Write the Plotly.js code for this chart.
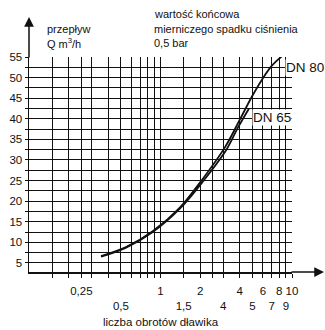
<!DOCTYPE html>
<html>
<head>
<meta charset="utf-8">
<script src="https://cdn.plot.ly/plotly-3.0.1.min.js"></script>
<style>html,body{margin:0;padding:0;background:#fff;}#chart{width:325px;height:330px;}</style>
</head>
<body>
<div id="chart"></div>
<script>
// Data
const turnsDN80 = [0.353, 0.547, 0.873, 1.397, 2.10, 3.08, 4.01, 4.95, 5.91, 7.03, 8.39];
const flowDN80  = [6.65, 8.83, 12.67, 18.35, 25.46, 32.99, 39.78, 45.36, 49.5, 52.9, 55.2];
const turnsDN65 = [0.353, 0.547, 0.873, 1.397, 2.13, 3.16, 3.87, 4.70];
const flowDN65  = [6.5, 8.7, 12.5, 18.1, 25.0, 32.4, 37.8, 42.45];

const xGridVals = [0.15, 0.2, 0.25, 0.3, 0.4, 0.5, 0.6, 0.7, 0.8, 0.9, 1, 1.5, 2, 2.5, 3, 4, 5, 6, 7, 8, 9, 10];
const xTopLabelVals = [0.25, 1, 2, 4, 6, 8, 10];
const xTopLabels = ['0,25', '1', '2', '4', '6', '8', '10'];
const xBottomLabelVals = [0.5, 1.5, 3, 5, 7, 9];
const xBottomLabels = ['0,5', '1,5', '4', '5', '7', '9'];

const yGridVals = [5, 7.5, 10, 12.5, 15, 17.5, 20, 22.5, 25, 27.5, 30, 32.5, 35, 37.5, 40, 42.5, 45, 47.5, 50, 52.5, 55];
const yLabelVals = [5, 10, 15, 20, 25, 30, 35, 40, 45, 50, 55];

const seriesNames = ['DN 80', 'DN 65'];

const xTickText = xGridVals.map(v => {
  const i = xTopLabelVals.indexOf(v);
  if (i >= 0) return xTopLabels[i];
  const j = xBottomLabelVals.indexOf(v);
  if (j >= 0) return '<br>' + xBottomLabels[j];
  return '';
});
const yTickText = yGridVals.map(v => yLabelVals.indexOf(v) >= 0 ? String(v) : '');

const FONT = 'Liberation Sans, Arial, sans-serif';

const traces = [
  {x: turnsDN80, y: flowDN80, name: seriesNames[0], mode: 'lines', type: 'scatter',
   line: {color: '#111', width: 1.8, shape: 'spline'}, cliponaxis: false, hoverinfo: 'skip'},
  {x: turnsDN65, y: flowDN65, name: seriesNames[1], mode: 'lines', type: 'scatter',
   line: {color: '#111', width: 1.8, shape: 'spline'}, cliponaxis: false, hoverinfo: 'skip'}
];

const PLOT_L = 29, PLOT_R = 292, PLOT_T = 57, PLOT_B = 272;
const PW = PLOT_R - PLOT_L, PH = PLOT_B - PLOT_T;
const px = x => (x - PLOT_L) / PW;
const py = y => (PLOT_B - y) / PH;

const layout = {
  width: 325, height: 330,
  margin: {l: PLOT_L, r: 325 - PLOT_R, t: PLOT_T, b: 330 - PLOT_B, pad: 0},
  paper_bgcolor: '#fff', plot_bgcolor: '#fff',
  showlegend: false,
  font: {family: FONT, size: 12, color: '#111'},
  xaxis: {
    type: 'log', range: [-1, 1], fixedrange: true,
    tickmode: 'array', tickvals: xGridVals, ticktext: xTickText, tickangle: 0,
    showgrid: true, gridcolor: '#111', gridwidth: 1,
    showline: true, linecolor: '#111', linewidth: 1.5,
    ticks: 'outside', ticklen: 4, tickcolor: '#111', tickwidth: 1,
    ticklabelstandoff: 4,
    tickfont: {family: FONT, size: 11.5, color: '#111'},
    zeroline: false,
    title: {text: 'liczba obrotów dławika', font: {family: FONT, size: 11.5, color: '#111'}, standoff: 6}
  },
  yaxis: {
    range: [2.8, 55], fixedrange: true,
    tickmode: 'array', tickvals: yGridVals, ticktext: yTickText,
    showgrid: true, gridcolor: '#111', gridwidth: 1,
    showline: true, linecolor: '#111', linewidth: 1.5,
    ticks: 'outside', ticklen: 3, tickcolor: '#111', tickwidth: 1,
    tickfont: {family: FONT, size: 11.5, color: '#111'},
    zeroline: false
  },
  annotations: [
    // y axis arrow
    {xref: 'paper', yref: 'paper', x: 0, y: py(17), ax: 0, ay: 42, axref: 'pixel', ayref: 'pixel',
     text: '', showarrow: true, arrowhead: 2, arrowsize: 1.3, arrowwidth: 1.5, arrowcolor: '#111'},
    // x axis arrow
    {xref: 'paper', yref: 'paper', x: px(324), y: 0, ax: -34, ay: 0, axref: 'pixel', ayref: 'pixel',
     text: '', showarrow: true, arrowhead: 2, arrowsize: 1.3, arrowwidth: 1.5, arrowcolor: '#111'},
    {xref: 'paper', yref: 'paper', x: px(45), y: py(29), xanchor: 'left', yanchor: 'middle', showarrow: false,
     text: 'przepływ', font: {family: FONT, size: 11, color: '#111'}},
    {xref: 'paper', yref: 'paper', x: px(45), y: py(43), xanchor: 'left', yanchor: 'middle', showarrow: false,
     text: 'Q m<sup>3</sup>/h', font: {family: FONT, size: 11, color: '#111'}},
    {xref: 'paper', yref: 'paper', x: px(152), y: py(14), xanchor: 'left', yanchor: 'middle', showarrow: false,
     text: 'wartość końcowa', font: {family: FONT, size: 11, color: '#111'}},
    {xref: 'paper', yref: 'paper', x: px(152), y: py(29), xanchor: 'left', yanchor: 'middle', showarrow: false,
     text: 'mierniczego spadku ciśnienia', font: {family: FONT, size: 11, color: '#111'}},
    {xref: 'paper', yref: 'paper', x: px(152), y: py(43), xanchor: 'left', yanchor: 'middle', showarrow: false,
     text: '0,5 bar', font: {family: FONT, size: 11, color: '#111'}},
    {xref: 'paper', yref: 'paper', x: px(285), y: py(67), xanchor: 'left', yanchor: 'middle', showarrow: false,
     text: seriesNames[0], bgcolor: '#fff', borderpad: 0, font: {family: FONT, size: 13.5, color: '#111'}},
    {xref: 'paper', yref: 'paper', x: px(252), y: py(117), xanchor: 'left', yanchor: 'middle', showarrow: false,
     text: seriesNames[1], bgcolor: '#fff', borderpad: 0, font: {family: FONT, size: 13.5, color: '#111'}}
  ]
};

Plotly.newPlot('chart', traces, layout, {staticPlot: true, displayModeBar: false});
</script>
</body>
</html>
